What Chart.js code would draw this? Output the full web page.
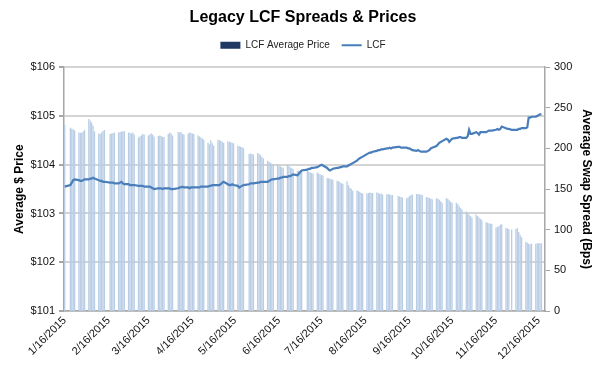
<!DOCTYPE html>
<html>
<head>
<meta charset="utf-8">
<script src="https://cdn.jsdelivr.net/npm/chart.js@4.4.0/dist/chart.umd.min.js"></script>
<style>
  html, body { margin: 0; padding: 0; background: #fff; }
</style>
</head>
<body>
<canvas id="myChart" width="600" height="373"></canvas>
<script>
// axis runs over calendar days, bars only on trading days
const firstDay = new Date(2015, 0, 16);
const lastDay = new Date(2015, 11, 20);
const tickLabels = ['1/16/2015', '2/16/2015', '3/16/2015', '4/16/2015', '5/16/2015', '6/16/2015',
    '7/16/2015', '8/16/2015', '9/16/2015', '10/16/2015', '11/16/2015', '12/16/2015'];

// one entry per weekday (Mon-Fri), null = market closed
const avgPrice = [
    104.82,
    null, 104.76, 104.74, 104.72, 104.70,
    104.66, 104.65, 104.66, 104.68, 104.71,
    104.94, 104.90, 104.86, 104.80, 104.68,
    104.64, 104.63, 104.66, 104.69, 104.71,
    null, 104.63, 104.64, 104.65, 104.66,
    104.66, 104.67, 104.68, 104.68, 104.69,
    104.66, 104.65, 104.64, 104.66, 104.62,
    104.56, 104.58, 104.60, 104.63, 104.62,
    104.60, 104.62, 104.64, 104.62, 104.58,
    104.59, 104.60, 104.59, 104.57, 104.57,
    104.63, 104.66, 104.64, 104.60, null,
    104.67, 104.66, 104.67, 104.63, 104.62,
    104.64, 104.66, 104.65, 104.64, 104.63,
    104.60, 104.58, 104.56, 104.54, 104.51,
    104.45, 104.42, 104.50, 104.44, 104.39,
    104.51, 104.50, 104.49, 104.47, 104.45,
    104.48, 104.47, 104.46, 104.45, 104.44,
    104.39, 104.38, 104.37, 104.36, 104.34,
    null, 104.22, 104.23, 104.22, 104.21,
    104.24, 104.22, 104.20, 104.16, 104.13,
    104.08, 104.06, 104.04, 104.02, 104.00,
    104.00, 103.99, 103.97, 103.95, 103.94,
    104.00, 103.98, 103.95, 103.93, 103.91,
    103.87, 103.88, 103.86, 103.85, null,
    103.88, 103.86, 103.84, 103.83, 103.82,
    103.84, 103.82, 103.80, 103.79, 103.78,
    103.73, 103.72, 103.71, 103.70, 103.69,
    103.67, 103.66, 103.64, 103.62, 103.61,
    103.66, 103.58, 103.53, 103.50, 103.47,
    103.47, 103.46, 103.44, 103.42, 103.41,
    103.41, 103.42, 103.43, 103.42, 103.42,
    103.43, 103.42, 103.40, 103.41, 103.39,
    103.39, 103.40, 103.39, 103.38, 103.38,
    null, 103.36, 103.35, 103.34, 103.33,
    103.31, 103.33, 103.36, 103.38, 103.39,
    103.40, 103.40, 103.39, 103.39, 103.38,
    103.34, 103.33, 103.32, 103.30, 103.29,
    103.31, 103.30, 103.28, 103.25, 103.22,
    103.31, 103.30, 103.27, 103.24, 103.22,
    103.22, 103.19, 103.15, 103.11, 103.08,
    103.04, 103.01, 102.98, 102.95, 102.92,
    102.98, 102.95, 102.92, 102.89, 102.86,
    102.82, 102.81, 102.80, 102.79, 102.79,
    102.71, 102.73, 102.74, 102.77, 102.78,
    102.70, 102.69, 102.68, null, 102.67,
    102.68, 102.70, 102.62, 102.56, 102.51,
    102.42, 102.40, 102.38, 102.37, 102.38,
    102.38, 102.39, 102.39, 102.39, 102.39
];

const lcfSpread = [
    153,
    null, 155, 158, 161, 162,
    161, 160, 160, 161, 162,
    162, 163, 163, 164, 163,
    161, 160, 160, 159, 159,
    null, 158, 158, 158, 157,
    157, 158, 159, 157, 156,
    156, 155, 155, 155, 155,
    154, 154, 154, 154, 153,
    153, 153, 152, 151, 150,
    151, 151, 151, 150, 151,
    151, 151, 150, 150, null,
    151, 152, 152, 153, 152,
    152, 151, 152, 152, 152,
    152, 152, 153, 153, 153,
    153, 154, 154, 155, 155,
    155, 155, 156, 158, 159,
    156, 155, 155, 156, 155,
    154, 152, 153, 154, 155,
    null, 156, 157, 157, 157,
    158, 158, 159, 159, 159,
    159, 160, 161, 162, 162,
    163, 163, 164, 164, 165,
    165, 166, 166, 167, 168,
    167, 169, 171, 173, null,
    174, 175, 175, 176, 176,
    177, 178, 179, 180, 179,
    176, 174, 173, 174, 175,
    176, 176, 177, 177, 178,
    178, 179, 180, 181, 182,
    185, 187, 188, 189, 190,
    193, 194, 195, 195, 196,
    197, 198, 198, 199, 199,
    200, 200, 201, 200, 201,
    null, 202, 202, 201, 201,
    201, 200, 200, 199, 198,
    197, 198, 197, 196, 196,
    196, 197, 198, 200, 201,
    203, 205, 207, 208, 209,
    212, 211, 208, 210, 212,
    213, 213, 214, 214, 213,
    213, 215, 223, 218, 218,
    220, 219, 217, 220, 220,
    220, 221, 222, 222, 222,
    223, 224, 223, 224, 227,
    225, 224, 224, null, 223,
    223, 223, 224, 224, 225,
    225, 226, 238, 238, 239,
    239, 240, 241, 242, 242
];

const barColor = '#b9cde5';
const legendBarColor = '#1f3864';
const lineColor = '#4a7ebb';
const axisColor = '#a6a6a6';
const gridColor = '#d4d4d4';
const fontFamily = '"Liberation Sans", Arial, sans-serif';

const days = [];
const priceByDay = [];
const spreadByDay = [];
let k = 0;
for (let d = new Date(firstDay); d <= lastDay; d.setDate(d.getDate() + 1)) {
    days.push(`${d.getMonth() + 1}/${d.getDate()}/${d.getFullYear()}`);
    const wd = d.getDay();
    if (wd === 0 || wd === 6 || k >= avgPrice.length) {
        priceByDay.push(null);
        spreadByDay.push(null);
    } else {
        priceByDay.push(avgPrice[k]);
        spreadByDay.push(lcfSpread[k]);
        k++;
    }
}

// leave a gap under the legend like the original
const legendGap = {
    id: 'legendGap',
    afterInit(chart) {
        const fit = chart.legend.fit;
        chart.legend.fit = function() {
            fit.call(this);
            this.height += 7;
        };
    }
};

new Chart(document.getElementById('myChart'), {
    type: 'bar',
    data: {
        labels: days,
        datasets: [{
            type: 'bar',
            label: 'LCF Average Price',
            data: priceByDay,
            backgroundColor: barColor,
            yAxisID: 'y',
            barPercentage: 0.92,
            categoryPercentage: 1,
            order: 2
        }, {
            type: 'line',
            label: 'LCF',
            data: spreadByDay,
            borderColor: lineColor,
            borderWidth: 2.2,
            pointRadius: 0,
            spanGaps: true,
            tension: 0,
            yAxisID: 'y1',
            order: 1
        }]
    },
    plugins: [legendGap],
    options: {
        responsive: false,
        animation: false,
        devicePixelRatio: 1,
        layout: { padding: { left: 10, right: 4, top: 0, bottom: 0 } },
        plugins: {
            title: {
                display: true,
                text: 'Legacy LCF Spreads & Prices',
                color: '#000',
                font: { family: fontFamily, size: 16, weight: 'bold' },
                padding: { top: 8, bottom: 1 }
            },
            legend: {
                position: 'top',
                labels: {
                    usePointStyle: true,
                    pointStyleWidth: 20,
                    boxHeight: 7,
                    padding: 12,
                    color: '#222',
                    font: { family: fontFamily, size: 10 },
                    generateLabels: () => [
                        { text: 'LCF Average Price', fillStyle: legendBarColor, strokeStyle: legendBarColor, lineWidth: 0, pointStyle: 'rect', datasetIndex: 0, fontColor: '#222' },
                        { text: 'LCF', fillStyle: lineColor, strokeStyle: lineColor, lineWidth: 2, pointStyle: 'line', datasetIndex: 1, fontColor: '#222' }
                    ]
                }
            },
            tooltip: { enabled: false }
        },
        scales: {
            x: {
                offset: true,
                grid: { display: false, drawTicks: false },
                border: { color: axisColor, width: 1.5 },
                ticks: {
                    autoSkip: false,
                    minRotation: 45,
                    maxRotation: 45,
                    padding: 3,
                    color: '#111',
                    font: { family: fontFamily, size: 11 },
                    callback: function(value) {
                        const label = this.getLabelForValue(value);
                        return tickLabels.includes(label) ? label : null;
                    }
                },
                afterFit: scale => { scale.height = 62; }
            },
            y: {
                position: 'left',
                min: 101,
                max: 106,
                ticks: {
                    stepSize: 1,
                    padding: 4,
                    color: '#111',
                    font: { family: fontFamily, size: 11 },
                    callback: v => '$' + v
                },
                grid: { color: gridColor, lineWidth: 2, tickLength: 5, tickColor: axisColor },
                border: { color: axisColor, width: 1.5 },
                title: {
                    display: true,
                    text: 'Average $ Price',
                    color: '#000',
                    font: { family: fontFamily, size: 12, weight: 'bold' },
                    padding: 2
                },
                afterFit: scale => { scale.width = 54; }
            },
            y1: {
                position: 'right',
                min: 0,
                max: 300,
                ticks: {
                    stepSize: 50,
                    padding: 4,
                    color: '#111',
                    font: { family: fontFamily, size: 11 }
                },
                grid: { drawOnChartArea: false, tickLength: 5, color: axisColor },
                border: { color: axisColor, width: 1.5 },
                title: {
                    display: true,
                    text: 'Average Swap Spread (Bps)',
                    color: '#000',
                    font: { family: fontFamily, size: 12, weight: 'bold' },
                    padding: 2
                },
                afterFit: scale => { scale.width = 51; }
            }
        }
    }
});
</script>
</body>
</html>
